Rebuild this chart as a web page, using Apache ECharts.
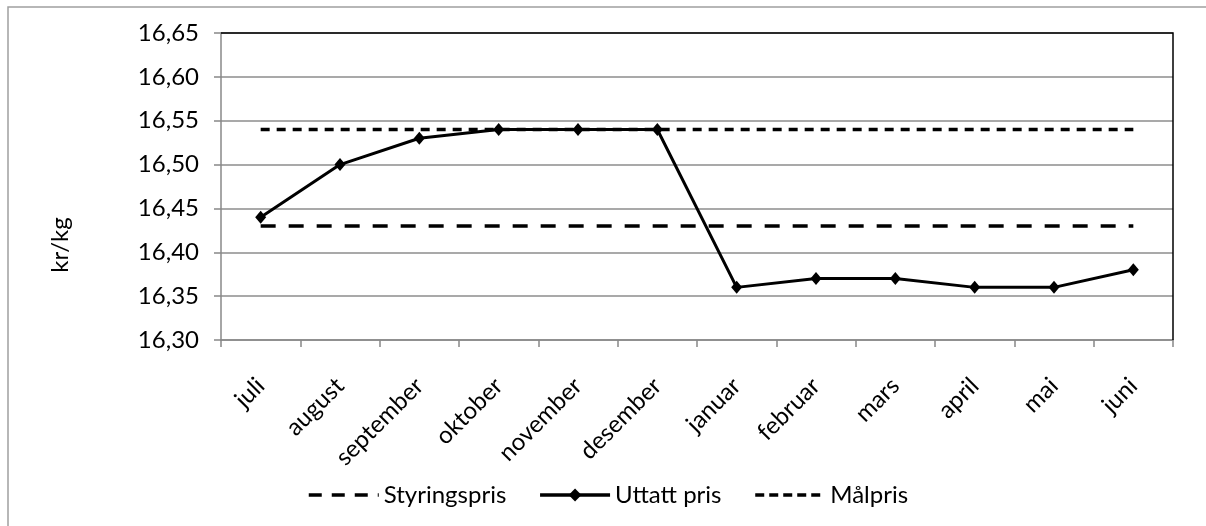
<!DOCTYPE html>
<html>
<head>
<meta charset="utf-8">
<script src="https://cdn.jsdelivr.net/npm/echarts@6/dist/echarts.min.js"></script>
<style>
  html, body { margin: 0; padding: 0; background: #fff; }
  #main { width: 1206px; height: 526px; }
</style>
</head>
<body>
<div id="main"></div>
<script>
// data
var months = ["juli", "august", "september", "oktober", "november", "desember",
  "januar", "februar", "mars", "april", "mai", "juni"];
var styringspris = [16.43, 16.43, 16.43, 16.43, 16.43, 16.43, 16.43, 16.43, 16.43, 16.43, 16.43, 16.43];
var uttattPris = [16.44, 16.50, 16.53, 16.54, 16.54, 16.54, 16.36, 16.37, 16.37, 16.36, 16.36, 16.38];
var malpris = [16.54, 16.54, 16.54, 16.54, 16.54, 16.54, 16.54, 16.54, 16.54, 16.54, 16.54, 16.54];

var font = "Lato, 'Open Sans', sans-serif";
var chart = echarts.init(document.getElementById("main"));

var option = {
  animation: false,
  textStyle: { fontFamily: font },
  grid: { left: 221, right: 33, top: 33, bottom: 186 },
  graphic: [
    {
      type: "rect",
      shape: { x: 8, y: 7, width: 1210, height: 530 },
      style: { fill: null, stroke: "#a0a0a0", lineWidth: 1.5 },
      silent: true
    },
    {
      // black top/right edge of plot area
      type: "polyline",
      shape: { points: [[221, 33], [1173, 33], [1173, 340]] },
      style: { stroke: "#000", lineWidth: 1.5, fill: null },
      silent: true, z: 10
    },
    {
      type: "text",
      x: 60, y: 245,
      rotation: Math.PI / 2,
      style: { text: "kr/kg", font: "24px " + font, fill: "#000", align: "center", verticalAlign: "middle" }
    }
  ],
  legend: {
    top: 478,
    left: 302,
    itemWidth: 70,
    itemHeight: 16,
    itemGap: 32,
    textStyle: { fontSize: 24, color: "#000", fontFamily: font },
    data: [
      { name: "Styringspris", itemStyle: { opacity: 0 }, lineStyle: { width: 3.5, type: [13, 10] } },
      { name: "Uttatt pris", lineStyle: { width: 3.5 } },
      { name: "Målpris", itemStyle: { opacity: 0 }, lineStyle: { width: 3.5, type: [9, 5] } }
    ]
  },
  xAxis: {
    type: "category",
    data: months,
    boundaryGap: true,
    axisLine: { lineStyle: { color: "#888", width: 1.5 } },
    axisTick: { show: true, length: 7, alignWithLabel: false, lineStyle: { color: "#888", width: 1.5 } },
    axisLabel: { rotate: 45, fontSize: 24, color: "#000", margin: 42, interval: 0 },
    splitLine: { show: false }
  },
  yAxis: {
    type: "value",
    min: 16.30,
    max: 16.65,
    interval: 0.05,
    axisLine: { show: true, lineStyle: { color: "#888", width: 1.5 } },
    axisTick: { show: true, length: 7, lineStyle: { color: "#888", width: 1.5 } },
    axisLabel: {
      fontSize: 24, color: "#000", margin: 22,
      formatter: function (v) { return v.toFixed(2).replace(".", ","); }
    },
    splitLine: { lineStyle: { color: "#8c8c8c", width: 1.5 } }
  },
  series: [
    {
      name: "Styringspris",
      type: "line",
      data: styringspris,
      symbol: "circle",
      showSymbol: false,
      lineStyle: { color: "#000", width: 3.5, type: [15, 13] },
      itemStyle: { color: "#000" },
      z: 3
    },
    {
      name: "Uttatt pris",
      type: "line",
      data: uttattPris,
      symbol: "diamond",
      symbolSize: [11, 13],
      lineStyle: { color: "#000", width: 3 },
      itemStyle: { color: "#000" },
      z: 4
    },
    {
      name: "Målpris",
      type: "line",
      data: malpris,
      symbol: "circle",
      showSymbol: false,
      lineStyle: { color: "#000", width: 3.5, type: [9, 7] },
      itemStyle: { color: "#000" },
      z: 3
    }
  ]
};

chart.setOption(option);
</script>
</body>
</html>
